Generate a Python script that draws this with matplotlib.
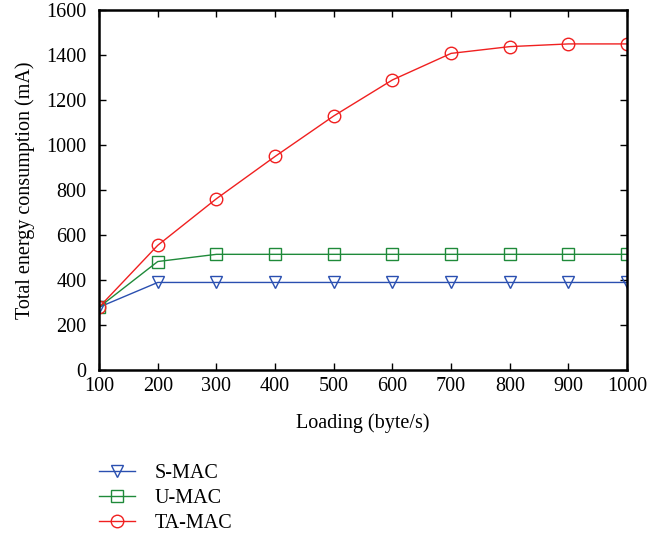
import matplotlib
matplotlib.use("Agg")
from matplotlib import pyplot as plt

plt.rcParams["font.family"] = ["Liberation Serif", "DejaVu Serif"]

loading = [100, 200, 300, 400, 500, 600, 700, 800, 900, 1000]
s_mac = [280, 390, 390, 390, 390, 390, 390, 390, 390, 390]
u_mac = [280, 483, 515, 515, 515, 515, 515, 515, 515, 515]
ta_mac = [280, 555, 762, 950, 1130, 1290, 1408, 1438, 1450, 1450]

fig = plt.figure(figsize=(6.56, 5.35), dpi=100)
ax = fig.add_axes([0.151, 0.308, 0.805, 0.673])

ax.plot(loading, s_mac, color="#2a4fb0", lw=1, marker="v", ms=9,
        mfc="none", mew=1, label="S-MAC")
ax.plot(loading, u_mac, color="#1f8a3a", lw=1, marker="s", ms=8,
        mfc="none", mew=1, label="U-MAC")
ax.plot(loading, ta_mac, color="#f02020", lw=1, marker="o", ms=9,
        mfc="none", mew=1, label="TA-MAC")

ax.set_xlim(100, 1000)
ax.set_ylim(0, 1600)
ax.set_xticks(loading)
ax.set_yticks(range(0, 1601, 200))
ax.tick_params(direction="in", top=True, right=True, labelsize=14.5, length=5, width=1)
ax.tick_params(axis="x", pad=5)
ax.tick_params(axis="y", pad=9)
for sp in ax.spines.values():
    sp.set_linewidth(1.8)

ax.set_xlabel("Loading (byte/s)", fontsize=14.5, labelpad=12)
ax.set_ylabel("Total energy consumption (mA)", fontsize=14.5, labelpad=8)

handles, labels = ax.get_legend_handles_labels()
fig.legend(handles, labels, loc="center left", bbox_to_anchor=(0.124, 0.068),
           frameon=False, fontsize=14.5, handlelength=1.75, labelspacing=0.3,
           handletextpad=1.0)

fig.savefig("out.png", dpi=100)
